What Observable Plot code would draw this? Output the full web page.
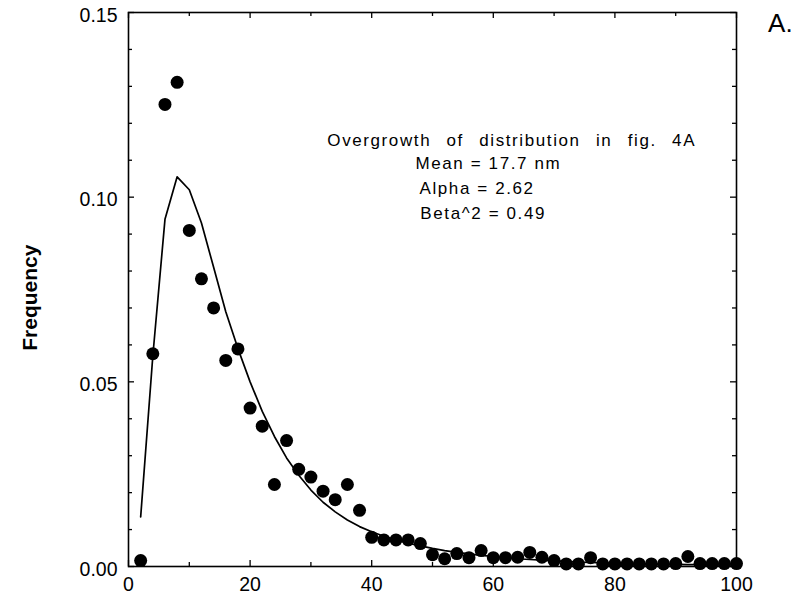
<!DOCTYPE html>
<html>
<head>
<meta charset="utf-8">
<script src="https://cdn.jsdelivr.net/npm/d3@7"></script>
<script src="https://cdn.jsdelivr.net/npm/@observablehq/plot@0.6"></script>
<style>
  html, body { margin: 0; padding: 0; background: white; }
  #chart svg { display: block; }
</style>
</head>
<body>
<div id="chart"></div>
<script>
// Observed frequencies (dots), size bins in nm
const obsX = [2,4,6,8,10,12,14,16,18,20,22,24,26,28,30,32,34,36,38,40,42,44,46,48,50,52,54,56,58,60,62,64,66,68,70,72,74,76,78,80,82,84,86,88,90,92,94,96,98,100];
const obsY = [0.0016,0.0576,0.1251,0.1311,0.091,0.0779,0.070,0.0558,0.0589,0.0429,0.038,0.0222,0.0341,0.0263,0.0242,0.0204,0.0181,0.0222,0.0152,0.0079,0.0072,0.0072,0.0072,0.0062,0.0032,0.0021,0.0035,0.0024,0.0043,0.0024,0.0024,0.0025,0.0038,0.0025,0.0016,0.0007,0.0007,0.0024,0.0007,0.0007,0.0007,0.0007,0.0007,0.0007,0.0008,0.0027,0.0008,0.0008,0.0008,0.0008];

// Fitted distribution (line)
const fitX = [2,4,6,8,10,12,14,16,18,20,22,24,26,28,30,32,34,36,38,40,42,44,46,48,50,52,54,56,58,60,62,64,66,68,70,72,74,76,78,80,82,84,86,88,90,92,94,96,98,100];
const fitY = [0.0134,0.057,0.094,0.1055,0.102,0.093,0.081,0.069,0.059,0.050,0.042,0.0352,0.0294,0.0247,0.0207,0.0174,0.0148,0.0126,0.0108,0.0094,0.0082,0.0072,0.0063,0.0056,0.0049,0.0043,0.0038,0.0034,0.0030,0.0027,0.0024,0.0021,0.0019,0.0017,0.0015,0.0014,0.0012,0.0011,0.0010,0.0009,0.0008,0.0007,0.0007,0.0006,0.0006,0.0005,0.0005,0.0004,0.0004,0.0004];

// Ticks
const xMajor = [0,20,40,60,80,100];
const xMinor = [10,30,50,70,90];
const yMajor = [0,0.05,0.10,0.15];
const yMinor = [0.01,0.02,0.03,0.04,0.06,0.07,0.08,0.09,0.11,0.12,0.13,0.14];

// Annotation texts
const titleText = "Overgrowth of distribution in fig. 4A";
const statLines = ["Mean = 17.7 nm", "Alpha = 2.62", "Beta^2 = 0.49"];
const yLabel = "Frequency";
const panelLabel = "A.";

const obs = obsX.map((x, i) => ({x, y: obsY[i]}));
const fit = fitX.map((x, i) => ({x, y: fitY[i]}));

const W = 802, H = 596;
const mT = 12, mR = 66, mB = 30, mL = 128;
const innerW = W - mL - mR, innerH = H - mT - mB;
const majLen = 6, minLen = 4;
const font = "Liberation Sans, Arial, Helvetica, sans-serif";

const plot = Plot.plot({
  width: W, height: H,
  marginTop: mT, marginRight: mR, marginBottom: mB, marginLeft: mL,
  style: {fontFamily: font, background: "white", color: "black", overflow: "visible"},
  x: {domain: [0, 100]},
  y: {domain: [0, 0.15]},
  marks: [
    Plot.frame({stroke: "black", strokeWidth: 1.6}),
    // inward ticks: bottom, top
    Plot.ruleX(xMajor, {x: d => d, insetTop: innerH - majLen, stroke: "black", strokeWidth: 1.3}),
    Plot.ruleX(xMinor, {x: d => d, insetTop: innerH - minLen, stroke: "black", strokeWidth: 1.3}),
    Plot.ruleX(xMajor, {x: d => d, insetBottom: innerH - majLen, stroke: "black", strokeWidth: 1.3}),
    Plot.ruleX(xMinor, {x: d => d, insetBottom: innerH - minLen, stroke: "black", strokeWidth: 1.3}),
    // inward ticks: left, right
    Plot.ruleY(yMajor, {y: d => d, insetRight: innerW - majLen, stroke: "black", strokeWidth: 1.3}),
    Plot.ruleY(yMinor, {y: d => d, insetRight: innerW - minLen, stroke: "black", strokeWidth: 1.3}),
    Plot.ruleY(yMajor, {y: d => d, insetLeft: innerW - majLen, stroke: "black", strokeWidth: 1.3}),
    Plot.ruleY(yMinor, {y: d => d, insetLeft: innerW - minLen, stroke: "black", strokeWidth: 1.3}),
    Plot.axisX({ticks: xMajor, tickSize: 0, tickPadding: 11, fontSize: 19.5, label: null, tickFormat: d3.format("d")}),
    Plot.axisY({ticks: yMajor, tickSize: 0, tickPadding: 11, dy: 3, fontSize: 19.5, label: null, tickFormat: d3.format(".2f")}),
    Plot.line(fit, {x: "x", y: "y", stroke: "black", strokeWidth: 1.7}),
    Plot.dot(obs, {x: "x", y: "y", r: 6.5, fill: "black", stroke: "none"}),
    Plot.text([titleText], {x: 32.7, y: 0.1154, text: d => d, textAnchor: "start", lineAnchor: "middle", fontSize: 17, fill: "black", fontFamily: font}),
    Plot.text([statLines[0]], {x: 47.2, y: 0.1091, text: d => d, textAnchor: "start", lineAnchor: "middle", fontSize: 17, fill: "black", fontFamily: font}),
    Plot.text([statLines[1]], {x: 47.86, y: 0.1024, text: d => d, textAnchor: "start", lineAnchor: "middle", fontSize: 17, fill: "black", fontFamily: font}),
    Plot.text([statLines[2]], {x: 48.0, y: 0.0957, text: d => d, textAnchor: "start", lineAnchor: "middle", fontSize: 17, fill: "black", fontFamily: font}),
    Plot.text([yLabel], {x: -16.2, y: 0.0728, text: d => d, rotate: -90, textAnchor: "middle", lineAnchor: "middle", fontSize: 21, fontWeight: "bold", fill: "black", fontFamily: font}),
    Plot.text([panelLabel], {x: 105.2, y: 0.1469, text: d => d, textAnchor: "start", lineAnchor: "middle", fontSize: 26, fill: "black", fontFamily: font})
  ]
});

// letter and word spacing for the annotation block (as in the scanned original)
d3.select(plot).selectAll("g[aria-label='text'] text").each(function() {
  const t = this.textContent;
  if (t === titleText) { this.style.letterSpacing = "1.6px"; this.style.wordSpacing = "9px"; }
  else if (statLines.includes(t)) { this.style.letterSpacing = "1.6px"; }
});

document.getElementById("chart").appendChild(plot);
</script>
</body>
</html>
